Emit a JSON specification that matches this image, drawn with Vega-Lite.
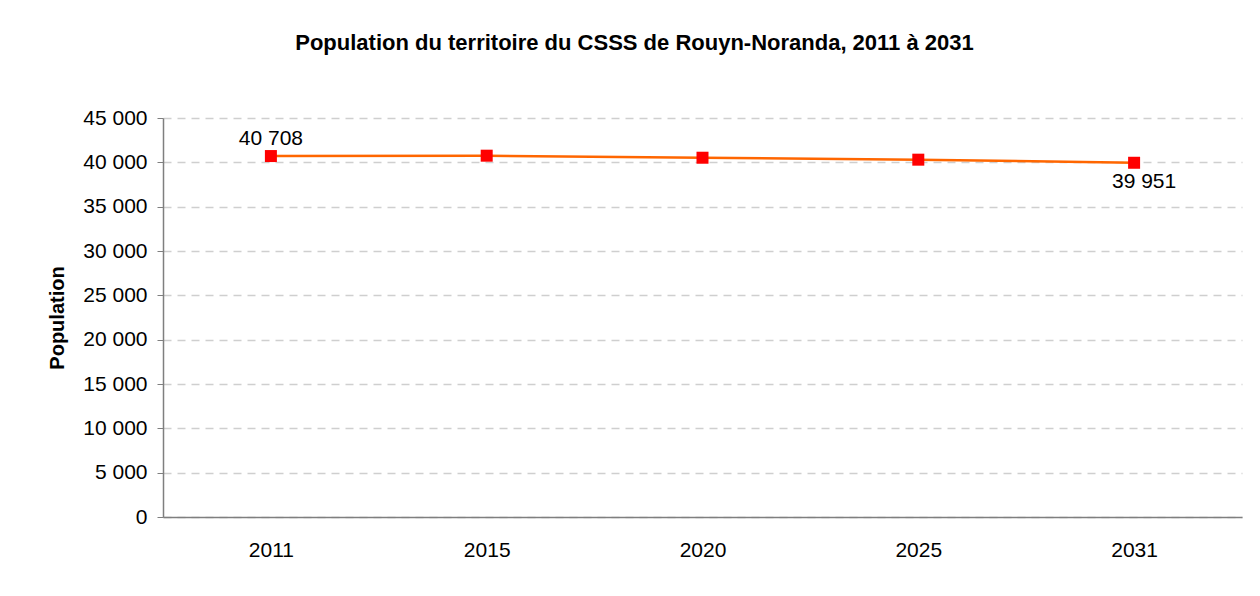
{
  "$schema": "https://vega.github.io/schema/vega-lite/v6.json",
  "width": 1079,
  "height": 399,
  "autosize": {"type": "none"},
  "padding": {"left": 163, "top": 118, "right": 18, "bottom": 79},
  "background": "white",
  "config": {
    "locale": {"number": {"decimal": ",", "thousands": " ", "grouping": [3], "currency": ["", " $"]}},
    "view": {"stroke": null},
    "font": "Liberation Sans"
  },
  "title": {
    "text": "Population du territoire du CSSS de Rouyn-Noranda, 2011 à 2031",
    "fontSize": 22,
    "fontWeight": "bold",
    "font": "Liberation Sans",
    "color": "black",
    "anchor": "middle",
    "dx": -68,
    "offset": 52
  },
  "data": {
    "values": [
      {"annee": "2011", "population": 40708},
      {"annee": "2015", "population": 40750},
      {"annee": "2020", "population": 40520},
      {"annee": "2025", "population": 40300},
      {"annee": "2031", "population": 39951}
    ]
  },
  "encoding": {
    "x": {
      "field": "annee",
      "type": "ordinal",
      "scale": {"type": "point", "padding": 0.5},
      "axis": {
        "title": null,
        "labelAngle": 0,
        "ticks": false,
        "labelPadding": 22,
        "labelFontSize": 21,
        "labelColor": "black",
        "domainColor": "#7f7f7f",
        "domainWidth": 1.5,
        "grid": false
      }
    },
    "y": {
      "field": "population",
      "type": "quantitative",
      "scale": {"domain": [0, 45000], "nice": false, "zero": true},
      "axis": {
        "title": "Population",
        "titleFontSize": 20,
        "titleFontWeight": "bold",
        "titleColor": "black",
        "titlePadding": 15,
        "values": [0, 5000, 10000, 15000, 20000, 25000, 30000, 35000, 40000, 45000],
        "format": ",.0f",
        "labelFontSize": 21,
        "labelColor": "black",
        "labelPadding": 10,
        "tickSize": 6,
        "tickColor": "#7f7f7f",
        "domainColor": "#7f7f7f",
        "domainWidth": 1.5,
        "grid": true,
        "gridColor": "#cfcfcf",
        "gridDash": [8, 6],
        "gridWidth": 1.5
      }
    }
  },
  "layer": [
    {"mark": {"type": "line", "color": "#ff6600", "strokeWidth": 2.5}},
    {"mark": {"type": "square", "size": 144, "color": "#ff0000", "filled": true, "opacity": 1}},
    {
      "transform": [{"filter": "datum.annee == '2011'"}],
      "mark": {"type": "text", "fontSize": 21, "color": "black", "baseline": "alphabetic", "dy": -11},
      "encoding": {"text": {"field": "population", "type": "quantitative", "format": ","}}
    },
    {
      "transform": [{"filter": "datum.annee == '2031'"}],
      "mark": {"type": "text", "fontSize": 21, "color": "black", "baseline": "alphabetic", "dy": 25, "dx": 10},
      "encoding": {"text": {"field": "population", "type": "quantitative", "format": ","}}
    }
  ]
}
